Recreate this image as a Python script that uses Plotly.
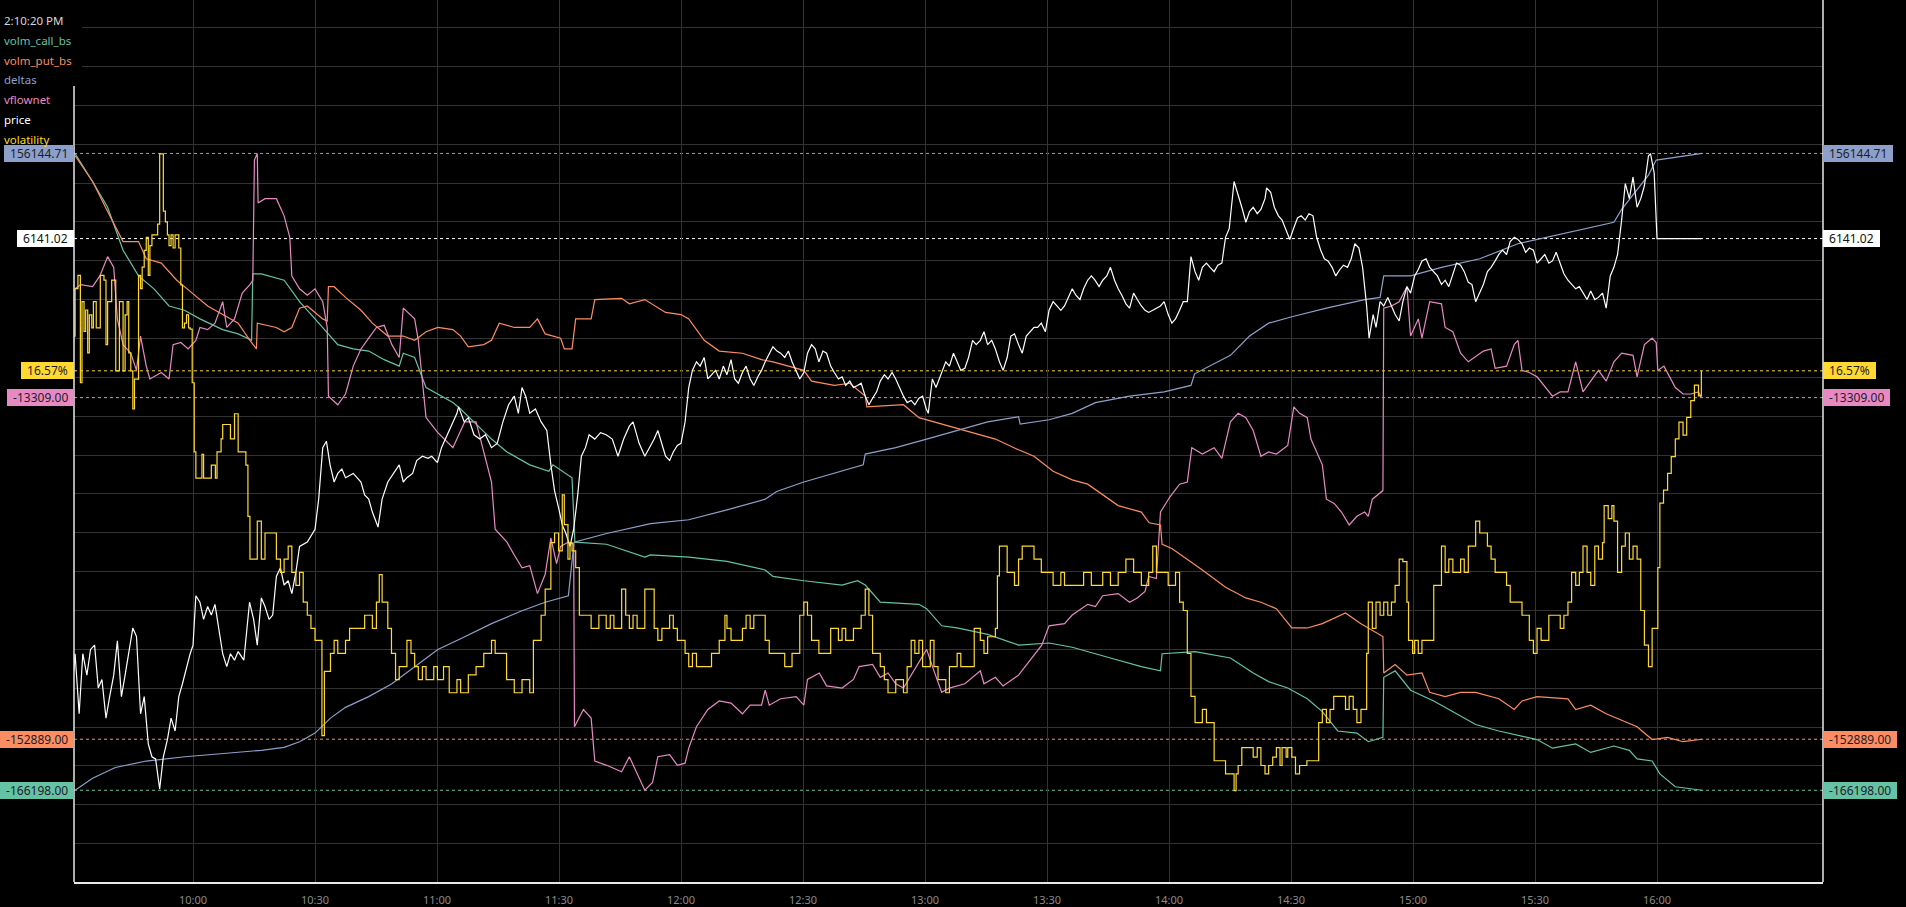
import plotly.graph_objects as go
from datetime import datetime, timedelta

BASE = datetime(2025, 6, 27, 9, 30)
CLOCK_TEXT = "2:10:20 PM"
TICK_LABELS = ["10:00", "10:30", "11:00", "11:30", "12:00", "12:30", "13:00",
               "13:30", "14:00", "14:30", "15:00", "15:30", "16:00"]

# ---------------- data: (minutes after 09:30, value) ----------------
call_points = [(1.0,-7508),(5.3,-14463),(9.0,-20883),(10.9,-26233),(12.8,-31583),(16.6,-37993),(20.4,-41213),(24.1,-45493),(27.9,-46563),(31.7,-48703),(37.3,-51378),(41.1,-52448),(44.4,-54053),(44.7,-37468),(46.8,-37468),(52.4,-39073),(56.2,-44423),(60.0,-48703),(62.8,-51913),(65.6,-55123),(69.4,-56193),(73.2,-56728),(77.0,-58868),(80.7,-60473),(81.7,-57263),(84.5,-58333),(87.3,-65823),(90.2,-67428),(93.9,-69568),(95.8,-71173),(99.6,-74918),(103.4,-78663),(107.2,-81873),(112.8,-85083),(117.5,-86688),(118.5,-85083),(123.2,-88293),(123.9,-104343),(131.7,-104878),(136.4,-106483),(141.1,-108088),(142.5,-107553),(151.9,-108088),(161.3,-109158),(170.7,-111298),(172.6,-112903),(180.2,-113973),(189.6,-115043),(193.4,-113973),(195.3,-115043),(199.0,-119323),(208.5,-119858),(210.4,-120928),(214.1,-125208),(217.9,-125743),(225.4,-127348),(233.0,-130023),(240.5,-129488),(246.2,-130558),(255.6,-133233),(263.2,-135373),(267.9,-136443),(268.3,-132163),(276.4,-131628),(282.0,-132698),(285.1,-133233),(290.7,-136978),(294.5,-139118),(299.2,-140723),(304.0,-143398),(307.7,-146608),(311.5,-151423),(316.2,-151958),(319.0,-154098),(322.6,-153028),(322.8,-138048),(325.6,-136443),(329.4,-141258),(335.1,-143933),(341.7,-147678),(345.4,-149818),(351.1,-151423),(360.5,-153563),(364.3,-155703),(370.0,-154633),(373.7,-156773),(379.4,-155168),(383.2,-156238),(385.1,-158378),(388.8,-158913),(390.7,-162123),(394.5,-165333),(401.1,-166198)]

put_points = [(1.0,-7454),(5.3,-13874),(9.0,-21364),(12.8,-28854),(16.6,-28854),(18.5,-33134),(22.2,-34204),(26.0,-38484),(29.8,-41694),(33.6,-44904),(37.3,-47044),(41.1,-49184),(44.0,-53464),(45.6,-55604),(45.8,-49184),(50.5,-50254),(52.4,-51324),(54.3,-50254),(56.2,-45439),(58.1,-44904),(61.9,-48114),(63.0,-48649),(63.3,-40089),(64.7,-40089),(67.5,-42764),(71.3,-45974),(74.1,-49184),(77.9,-52394),(81.7,-52394),(84.5,-53464),(87.3,-51324),(90.2,-50254),(93.9,-50789),(95.8,-52394),(97.7,-55069),(101.5,-54534),(103.4,-53464),(105.3,-49184),(109.0,-50254),(112.8,-50254),(114.7,-48114),(116.6,-51859),(120.4,-52929),(121.3,-55604),(123.2,-55604),(124.1,-48114),(127.9,-48114),(128.8,-43299),(135.4,-42978),(137.3,-44369),(141.1,-43299),(146.2,-46509),(150.0,-47044),(151.9,-48114),(155.7,-53464),(159.4,-56139),(165.1,-56674),(169.8,-58279),(172.6,-58814),(180.2,-60954),(182.1,-63629),(187.7,-64699),(191.5,-64164),(195.3,-67374),(195.7,-70049),(204.7,-69514),(208.5,-72724),(212.2,-73794),(217.9,-75399),(223.6,-77004),(227.3,-78074),(233.0,-80749),(236.8,-82354),(241.5,-86099),(246.2,-88239),(250.0,-89309),(253.7,-91984),(257.5,-94659),(263.2,-96264),(265.1,-98939),(267.9,-99474),(268.3,-104289),(270.7,-105359),(274.5,-108034),(278.2,-110709),(283.9,-114989),(288.9,-117664),(292.6,-118734),(296.4,-120339),(300.2,-125154),(304.0,-125154),(307.7,-124084),(313.4,-121409),(317.2,-124084),(320.9,-126224),(322.6,-127294),(322.8,-136389),(325.6,-134249),(328.5,-136924),(332.2,-136389),(334.1,-141204),(337.9,-142274),(341.7,-141204),(345.4,-141204),(351.1,-142809),(354.9,-145484),(356.8,-143344),(360.5,-142274),(368.1,-142809),(370.0,-145484),(373.7,-144414),(377.5,-146554),(381.3,-148159),(385.1,-149764),(388.8,-152974),(392.6,-152439),(396.4,-153509),(401.1,-152889)]

deltas_points = [(1.0,-2576),(5.3,420),(10.9,3095),(18.5,4700),(28.0,5770),(37.3,6626),(46.8,7375),(52.4,8124),(56.2,9515),(60.0,11655),(63.8,15400),(67.5,18075),(73.2,20750),(78.9,23960),(84.5,28240),(90.2,32520),(95.8,35195),(103.4,38940),(110.9,42150),(116.6,44290),(122.3,45895),(123.7,59270),(131.7,61410),(141.1,63550),(142.5,63871),(151.9,64834),(161.3,67295),(170.7,69970),(173.5,71896),(180.2,74250),(189.6,76925),(194.8,78530),(195.3,81205),(202.8,82810),(210.4,84950),(217.9,87090),(225.4,89230),(233.0,90514),(233.4,88695),(240.5,89765),(246.2,91370),(251.9,94045),(260.3,95650),(268.8,96720),(275.4,98325),(276.3,101214),(282.0,104210),(285.1,105815),(289.8,110630),(294.5,113840),(300.2,115445),(308.7,117585),(318.1,119725),(321.9,120260),(322.8,125610),(329.4,125610),(337.0,127750),(346.4,129890),(355.8,133635),(360.5,134705),(370.0,136845),(379.4,138985),(381.3,142195),(385.1,147010),(387.9,150755),(389.8,154500),(396.4,155570),(401.1,156144.71)]

vflownet_points = [(1.0,4772),(2.4,5485),(5.3,5128),(7.1,6912),(9.0,10123),(10.5,8339),(11.4,-222),(12.8,-4502),(14.7,-5929),(16.1,-8783),(17.1,-3075),(18.5,-8069),(19.4,-10209),(22.2,-9139),(24.1,-10209),(25.1,-4502),(27.0,-4146),(28.8,-5216),(30.7,-3789),(31.7,-1649),(33.6,-2006),(35.4,-935),(37.3,2632),(38.3,-1649),(40.2,-222),(42.1,4059),(44.0,5485),(44.7,6199),(45.1,26174),(45.8,27244),(46.0,19040),(47.7,19753),(50.5,19753),(52.4,16900),(53.8,13333),(54.3,6912),(56.2,4772),(58.1,3702),(60.0,4772),(61.9,2632),(63.0,-1649),(63.3,-13063),(65.6,-14490),(67.5,-12707),(69.4,-8069),(71.3,-5216),(73.2,-3432),(75.1,-1649),(77.0,-1292),(78.9,-4502),(80.7,-6642),(81.7,1562),(84.5,-222),(85.4,-3789),(87.3,-16630),(90.2,-19128),(93.9,-21624),(96.8,-17343),(99.6,-17343),(101.5,-22337),(103.4,-27331),(104.3,-35178),(107.2,-37319),(109.0,-39459),(110.9,-41599),(112.8,-41242),(114.7,-45879),(116.6,-42669),(118.0,-36605),(119.4,-40886),(120.4,-38032),(122.3,-37319),(123.6,-37676),(123.8,-67995),(126.0,-65141),(127.9,-66568),(128.8,-73702),(131.7,-74415),(135.4,-75485),(137.3,-72988),(139.2,-75842),(141.1,-78550),(143.0,-77266),(144.3,-72989),(147.2,-72632),(149.1,-74415),(151.0,-74059),(151.9,-71562),(153.8,-67995),(156.6,-65141),(159.4,-63714),(162.3,-64070),(165.1,-65854),(167.0,-64427),(169.8,-64427),(170.7,-61930),(171.7,-64427),(174.5,-63357),(178.3,-63001),(180.2,-64427),(181.1,-60147),(184.0,-59076),(185.8,-61217),(189.6,-61573),(192.4,-60147),(193.8,-58007),(197.1,-57650),(199.0,-59790),(200.9,-59076),(202.8,-60860),(204.7,-61573),(208.5,-57294),(210.4,-55153),(212.2,-58720),(214.1,-62288),(216.0,-61573),(219.8,-60860),(223.6,-58720),(224.5,-60860),(227.3,-59790),(229.2,-61217),(233.0,-59434),(235.8,-56937),(238.7,-54440),(240.5,-51230),(244.3,-50873),(246.2,-49446),(250.0,-47663),(251.9,-48019),(253.7,-46236),(257.5,-45879),(260.3,-47306),(262.2,-46593),(264.1,-45523),(265.0,-43026),(266.9,-43382),(267.9,-32325),(270.2,-29828),(272.6,-27688),(274.5,-27331),(275.6,-21624),(278.2,-22694),(281.1,-21624),(283.0,-23407),(285.1,-17343),(287.0,-15916),(288.9,-16630),(290.7,-18770),(292.6,-23051),(294.5,-22337),(296.4,-22694),(299.2,-21267),(300.7,-14846),(302.1,-15916),(304.0,-16630),(304.9,-20197),(307.7,-24477),(308.7,-30185),(310.6,-30898),(312.4,-32325),(314.3,-34465),(316.2,-33038),(318.1,-32325),(319.0,-33038),(320.0,-30185),(321.9,-29115),(322.6,-28758),(322.8,1562),(324.7,1918),(326.6,2632),(328.5,5128),(329.4,-3075),(331.3,-222),(332.2,-3432),(334.1,2632),(337.0,2275),(337.9,-1649),(339.8,-2362),(341.7,-5929),(343.6,-7356),(347.3,-5572),(349.2,-5216),(350.2,-8426),(353.0,-8069),(354.9,-4502),(355.8,-3789),(356.8,-8783),(358.6,-9139),(360.5,-9853),(364.3,-13063),(366.2,-12350),(368.1,-12350),(370.0,-7356),(371.8,-12350),(375.6,-8783),(377.5,-10566),(379.4,-7356),(381.3,-5929),(384.1,-6286),(385.1,-9853),(386.9,-4502),(388.8,-3432),(389.8,-4146),(390.2,-8783),(391.7,-8069),(394.5,-11636),(396.4,-12707),(398.3,-12707),(400.2,-12350),(400.9,-13309)]

price_points = [(0.7,6100.74),(1.0,6102.34),(2.0,6096.74),(2.9,6102.34),(3.9,6100.34),(4.8,6102.74),(5.8,6103.14),(6.7,6099.14),(7.6,6099.94),(8.6,6096.34),(9.5,6098.34),(10.5,6100.34),(11.4,6103.54),(12.4,6098.34),(13.3,6100.34),(14.2,6102.34),(15.2,6104.74),(16.1,6103.94),(17.1,6096.74),(18.0,6098.34),(19.0,6093.94),(19.9,6092.74),(20.8,6092.54),(21.8,6089.74),(22.7,6092.74),(23.7,6094.34),(24.6,6096.34),(25.6,6095.14),(26.5,6098.34),(27.4,6099.54),(28.4,6101.14),(29.3,6102.34),(30.0,6103.14),(30.7,6107.74),(31.7,6107.14),(32.6,6105.54),(33.6,6106.74),(34.5,6105.94),(35.4,6106.94),(36.4,6104.34),(37.3,6102.34),(38.3,6101.14),(39.2,6102.34),(40.2,6101.74),(41.1,6102.54),(42.5,6101.74),(43.2,6104.34),(43.9,6107.14),(44.9,6105.54),(45.8,6103.14),(46.8,6107.54),(47.7,6106.74),(48.7,6105.54),(49.6,6105.94),(50.5,6109.54),(51.5,6110.34),(52.4,6108.74),(53.4,6109.14),(54.3,6107.94),(55.3,6109.94),(56.2,6112.34),(58.1,6112.74),(60.0,6113.94),(60.9,6116.74),(61.9,6121.54),(62.8,6122.14),(63.7,6119.94),(64.7,6118.34),(65.6,6119.14),(66.6,6119.54),(67.5,6118.74),(69.4,6119.14),(71.3,6118.34),(72.2,6117.14),(73.2,6116.74),(74.1,6115.54),(75.5,6114.14),(76.5,6116.74),(77.9,6118.34),(79.3,6119.14),(80.7,6119.94),(81.7,6118.34),(82.6,6118.74),(84.0,6119.14),(85.0,6120.34),(86.4,6120.74),(87.8,6120.54),(88.7,6120.74),(90.1,6120.14),(91.1,6121.54),(92.0,6122.34),(93.0,6123.14),(93.9,6123.94),(94.9,6124.74),(95.3,6125.34),(96.7,6123.94),(97.7,6124.34),(99.1,6122.74),(100.5,6122.34),(101.9,6122.74),(103.4,6121.54),(104.8,6121.94),(106.2,6123.94),(107.6,6125.54),(109.0,6126.34),(110.0,6124.74),(110.9,6127.14),(111.8,6126.34),(112.8,6124.74),(114.2,6125.14),(115.6,6123.94),(117.0,6123.14),(118.0,6119.94),(118.9,6117.54),(119.9,6115.94),(120.8,6114.34),(121.7,6113.54),(122.7,6112.34),(123.6,6113.94),(124.6,6117.14),(125.5,6120.74),(126.5,6121.54),(127.4,6122.74),(128.8,6122.34),(130.2,6122.94),(131.6,6122.74),(133.1,6122.34),(134.5,6120.74),(135.9,6122.34),(137.3,6123.54),(138.2,6123.94),(139.7,6121.94),(141.1,6120.74),
(143.4,6122.34),(144.3,6123.14),(145.3,6121.94),(146.2,6120.74),(147.2,6120.34),(148.1,6121.14),(149.1,6121.74),(150.0,6121.94),(151.0,6123.94),(151.9,6127.14),(152.8,6128.74),(153.8,6129.54),(154.7,6129.14),(155.7,6129.94),(156.6,6127.94),(157.5,6128.34),(158.5,6128.74),(159.4,6127.94),(160.4,6129.14),(161.3,6128.34),(162.3,6129.74),(163.2,6127.94),(164.1,6127.54),(165.1,6128.54),(166.0,6129.14),(167.0,6127.94),(167.9,6127.34),(168.9,6128.14),(169.8,6128.74),(170.7,6129.54),(171.7,6130.34),(172.6,6130.94),(173.6,6130.54),(174.5,6130.34),(175.5,6129.94),(176.4,6130.54),(177.3,6129.54),(178.3,6128.74),(179.2,6127.94),(180.2,6128.54),(181.1,6130.34),(182.1,6131.14),(183.0,6130.74),(183.9,6129.54),(184.9,6130.54),(185.8,6130.34),(186.8,6129.14),(187.7,6128.54),(188.7,6127.94),(189.6,6128.14),(190.5,6127.34),(191.5,6127.74),(192.4,6127.14),(193.4,6127.34),(194.3,6127.54),(195.3,6126.34),(196.2,6125.54),(197.1,6126.14),(198.1,6126.74),(199.0,6127.74),(200.0,6128.34),(200.9,6127.94),(201.9,6128.54),(202.8,6127.94),(203.7,6127.14),(204.7,6126.34),(205.6,6125.74),(206.6,6125.94),(207.5,6125.54),(208.5,6126.14),(209.4,6126.34),(210.3,6125.14),(210.8,6124.74),(211.8,6127.94),(212.7,6127.14),(214.1,6128.54),(215.1,6129.54),(216.0,6129.14),(217.0,6130.34),(217.9,6129.54),(218.8,6128.74),(219.8,6128.94),(220.7,6129.94),(221.7,6131.54),(222.6,6131.14),(223.6,6131.54),(224.5,6132.34),(225.4,6131.14),(226.4,6131.54),(227.3,6130.74),(228.3,6129.54),(229.2,6128.74),(230.2,6129.94),(231.1,6131.94),(232.0,6132.14),(233.0,6131.14),(233.9,6130.34),(234.9,6131.94),(235.8,6132.34),(236.8,6132.74),(237.7,6132.74),(238.6,6133.14),(239.6,6132.34),(240.5,6134.34),(241.5,6135.14),(242.4,6134.74),(243.4,6134.34),(244.3,6134.74),(245.2,6135.54),(246.2,6136.34),(247.1,6135.74),(248.1,6135.34),(249.0,6136.34),(250.0,6137.14),(250.9,6137.54),(251.8,6137.14),(252.8,6136.54),(253.7,6137.14),(254.7,6137.54),(255.6,6138.34),(256.6,6137.14),(257.5,6136.34),(258.4,6135.74),(259.4,6134.94),(260.3,6134.54),(261.3,6135.94),(262.2,6135.34),(263.2,6134.74),(264.1,6134.34),(265.0,6134.14),(266.0,6134.34),(266.9,6134.54),(267.9,6134.74),(268.8,6135.14),(269.8,6133.94),(270.7,6133.14),(271.6,6133.54),(272.6,6134.34),(273.5,6135.14),(274.5,6135.14),(275.4,6139.34),(276.4,6137.94),(277.3,6137.14),(278.2,6138.34),(279.2,6138.74),(280.1,6138.34),(281.1,6137.94),(282.0,6138.54),(283.0,6138.74),(283.9,6141.14),(284.8,6141.94),
(286.0,6146.34),(287.0,6145.14),(287.9,6143.94),(288.9,6142.54),(289.8,6143.54),(290.7,6143.94),(291.7,6143.34),(292.6,6143.74),(293.6,6144.74),(294.0,6145.74),(295.0,6145.34),(295.9,6143.94),(296.9,6143.14),(297.8,6142.74),(298.8,6141.74),(299.7,6140.94),(300.6,6141.94),(301.6,6142.94),(302.5,6143.14),(303.5,6142.74),(304.4,6143.34),(305.4,6143.14),(306.3,6141.14),(307.3,6139.94),(308.2,6139.14),(309.1,6138.94),(310.1,6138.34),(311.0,6137.54),(312.0,6138.14),(312.9,6138.54),(313.9,6138.34),(314.8,6139.14),(315.7,6140.54),(316.7,6140.14),(317.6,6138.34),(318.6,6134.74),(319.2,6131.74),(320.2,6133.94),(320.9,6132.74),(321.9,6135.14),(322.8,6134.74),(323.8,6135.54),(324.7,6134.74),(325.6,6133.94),(326.6,6133.34),(327.5,6135.14),(328.5,6136.54),(329.4,6135.94),(330.4,6137.54),(331.3,6138.14),(332.2,6138.94),(333.2,6139.14),(334.1,6138.34),(335.1,6137.94),(336.0,6137.54),(337.0,6136.74),(337.9,6137.14),(338.8,6136.54),(339.8,6137.74),(340.7,6138.74),(341.7,6138.54),(342.6,6137.94),(343.6,6136.94),(344.5,6136.74),(345.4,6135.14),(346.4,6135.94),(347.3,6136.74),(348.3,6137.94),(349.2,6138.34),(350.2,6138.94),(351.1,6139.54),(352.0,6139.94),(353.0,6139.54),(353.9,6140.74),(354.9,6141.14),(355.8,6140.94),(356.8,6140.54),(357.7,6139.74),(358.6,6140.14),(359.6,6139.94),(360.5,6138.74),(361.5,6139.14),(362.4,6139.54),(363.4,6138.74),(364.3,6138.94),(365.2,6139.74),(366.2,6138.74),(367.1,6137.74),(368.1,6137.14),(369.0,6136.74),(370.0,6136.34),(370.9,6136.54),(371.8,6135.94),(372.8,6135.34),(373.7,6136.14),(374.7,6135.34),(375.6,6135.54),(376.6,6135.94),(377.5,6134.54),(378.5,6137.54),(379.4,6138.34),(380.3,6139.54),(381.3,6142.74),(382.2,6146.14),(383.2,6144.74),(384.1,6146.74),(385.1,6143.94),(386.0,6144.74),(386.9,6145.94),(387.9,6148.74),(388.4,6148.94),(388.8,6147.94),(389.3,6147.14),(390.0,6141.02),(400.9,6141.02)]

volatility_points = [(0.7,16.86),(1.0,17.26),(1.7,17.37),(2.3,16.47),(2.7,17.15),(3.2,16.90),(3.6,17.08),(4.1,16.72),(4.5,17.04),(5.1,16.93),(5.5,17.15),(6.2,16.93),(7.2,17.37),(8.1,17.33),(8.6,16.79),(9.0,17.15),(10.0,17.33),(11.0,16.57),(11.9,17.15),(12.8,16.57),(13.3,17.04),(13.8,17.15),(14.2,16.72),(14.7,16.57),(15.2,16.25),(15.6,16.50),(16.6,17.37),(17.1,17.26),(17.5,17.44),(18.0,17.58),(18.5,17.69),(19.0,17.37),(19.4,17.62),(19.9,17.71),(21.3,17.80),(21.8,18.39),(22.3,18.39),(22.7,17.91),(23.2,17.82),(23.7,17.71),(24.1,17.62),(24.6,17.71),(25.1,17.60),(25.6,17.71),(26.0,17.71),(26.5,17.60),(27.0,17.29),(27.4,16.93),(27.9,16.97),(28.4,17.04),(28.9,16.93),(29.3,16.92),(29.8,16.47),(30.3,15.89),(30.7,15.67),(31.7,15.67),(32.2,15.87),(32.6,15.67),(33.6,15.67),(34.5,15.78),(35.5,15.67),(35.9,15.89),(36.9,16.00),(37.3,16.12),(38.3,16.12),(39.2,16.00),(40.2,16.21),(41.1,15.89),(42.1,15.89),(43.0,15.78),(43.5,15.35),(44.0,14.99),(44.9,14.99),(45.8,15.31),(46.8,14.99),(47.7,15.21),(48.7,15.21),(50.5,14.99),(51.5,14.88),(52.4,14.99),(53.4,15.10),(54.3,14.88),(55.3,14.77),(56.2,14.88),(57.1,14.63),(58.1,14.52),(59.0,14.41),(60.0,14.31),(60.9,14.31),(61.7,13.51),(62.3,14.05),(63.8,14.20),(64.7,14.31),(65.6,14.20),(67.5,14.31),(68.5,14.41),(71.3,14.41),(72.2,14.52),(74.1,14.41),(75.1,14.63),(75.8,14.86),(76.5,14.63),(77.9,14.41),(78.8,14.20),(79.8,13.98),(80.7,14.09),(82.6,14.31),(83.6,14.20),(84.5,14.09),(85.4,13.98),(86.4,14.09),(87.3,13.98),(89.2,14.09),(90.1,13.98),(91.6,14.09),(93.0,13.87),(94.9,13.98),(95.8,13.87),(97.7,14.02),(99.6,14.09),(101.5,14.20),(103.4,14.31),(104.3,14.20),(106.2,14.20),(107.1,13.98),(109.0,13.87),(110.9,13.98),(112.8,13.87),(113.7,14.31),(114.7,14.31),(115.6,14.52),(116.6,14.74),(118.0,15.13),(118.9,15.21),(119.9,15.06),(120.8,15.53),(121.3,15.28),(122.2,14.99),(122.7,15.13),(123.2,15.06),(124.1,14.92),(125.0,14.52),(126.0,14.52),(127.9,14.41),(129.8,14.52),(131.6,14.41),(132.6,14.52),(133.5,14.41),(135.4,14.74),(136.4,14.52),(137.3,14.41),(138.2,14.52),(139.2,14.41),(141.1,14.74),
(143.4,14.41),(144.3,14.31),(145.3,14.41),(147.2,14.52),(148.1,14.41),(149.1,14.31),(151.0,14.20),(151.9,14.09),(152.8,14.20),(153.8,14.09),(156.6,14.09),(157.5,14.20),(159.4,14.31),(160.8,14.52),(161.3,14.41),(162.3,14.31),(165.1,14.41),(166.0,14.52),(167.0,14.41),(167.9,14.52),(169.8,14.52),(170.7,14.31),(171.7,14.20),(173.6,14.20),(175.5,14.09),(177.3,14.20),(179.2,14.52),(180.2,14.63),(181.1,14.52),(182.1,14.31),(183.9,14.20),(185.8,14.20),(186.8,14.41),(188.7,14.31),(189.6,14.41),(190.5,14.31),(192.4,14.41),(194.3,14.52),(195.3,14.74),(196.2,14.52),(197.1,14.20),(199.0,14.09),(200.0,13.98),(200.9,13.87),(202.8,13.98),(204.7,13.87),(205.6,14.09),(206.6,14.31),(207.5,14.20),(208.5,14.31),(209.4,14.09),(211.3,14.31),(212.2,14.09),(213.2,13.98),(215.1,13.87),(216.0,14.09),(217.9,14.20),(218.8,14.09),(220.7,14.09),(222.1,14.41),(223.6,14.31),(224.5,14.20),(225.4,14.34),(227.3,14.41),(227.8,14.85),(228.3,15.10),(229.7,15.10),(230.2,14.88),(231.1,14.88),(232.0,14.77),(233.0,14.99),(233.9,15.10),(235.8,15.10),(236.8,14.99),(237.7,14.99),(238.6,14.88),(240.5,14.88),(241.5,14.77),(242.4,14.77),(243.4,14.88),(244.3,14.77),(248.1,14.77),(249.0,14.88),(250.9,14.77),(252.8,14.77),(253.7,14.88),(255.6,14.77),(257.5,14.88),(259.4,14.99),(261.3,14.88),(263.2,14.77),(265.0,14.88),(266.0,15.10),(266.9,14.88),(268.8,14.88),(269.8,14.77),(271.6,14.88),(272.6,14.63),(273.5,14.56),(274.5,14.20),(275.4,13.84),(276.4,13.62),(278.2,13.73),(279.2,13.62),(281.1,13.30),(283.9,13.19),
(286.0,13.05),(286.5,13.19),(287.0,13.26),(287.9,13.41),(289.8,13.41),(290.7,13.33),(291.7,13.41),(292.6,13.26),(293.6,13.19),(294.5,13.26),(295.5,13.33),(296.4,13.41),(297.3,13.26),(297.8,13.41),(298.8,13.33),(299.2,13.41),(300.2,13.33),(301.1,13.19),(302.1,13.26),(303.9,13.30),(305.8,13.30),(306.8,13.62),(307.7,13.73),(308.7,13.62),(309.6,13.73),(310.5,13.84),(312.4,13.84),(313.4,13.73),(314.3,13.84),(315.3,13.73),(316.2,13.62),(317.2,13.73),(318.1,13.73),(318.6,14.20),(319.0,14.63),(320.0,14.41),(320.9,14.63),(321.9,14.52),(322.8,14.63),(323.8,14.52),(324.7,14.63),(325.6,14.77),(326.6,14.99),(327.5,14.97),(328.5,14.63),(328.9,14.31),(329.9,14.20),(330.4,14.31),(331.3,14.20),(332.2,14.31),(334.1,14.31),(335.1,14.77),(337.0,15.10),(337.9,14.88),(338.8,14.99),(339.8,14.88),(341.7,14.99),(342.6,14.88),(343.6,15.10),(344.5,15.10),(345.4,15.31),(346.4,15.21),(347.3,15.21),(348.3,15.10),(349.2,14.99),(350.2,14.88),(352.0,14.88),(353.0,14.77),(353.9,14.63),(354.9,14.63),(356.8,14.52),(358.6,14.31),(359.6,14.20),(360.5,14.41),(361.5,14.31),(363.4,14.52),(366.2,14.41),(367.1,14.52),(368.1,14.63),(369.0,14.88),(370.0,14.77),(370.9,14.88),(371.8,15.10),(372.8,14.88),(373.7,14.77),(374.7,15.10),(375.6,14.99),(376.6,15.13),(377.0,15.44),(378.0,15.33),(378.9,15.44),(379.4,15.31),(380.3,14.88),(381.3,15.10),(382.2,15.21),(383.2,14.99),(384.1,15.10),(385.1,14.99),(386.0,14.56),(386.9,14.27),(387.9,14.09),(388.8,14.41),(389.8,14.41),(390.2,14.92),(390.7,15.46),(391.6,15.57),(392.6,15.71),(393.5,15.85),(394.5,16.00),(395.4,16.14),(396.4,16.03),(397.3,16.18),(398.3,16.32),(399.2,16.45),(400.2,16.36),(400.9,16.57)]

SERIES_NAMES = ["volm_call_bs", "volm_put_bs", "deltas", "vflownet", "price", "volatility"]

# ---------------- styling ----------------
COLORS = {"volm_call_bs": "#66c2a5", "volm_put_bs": "#fc8d62", "deltas": "#8da0cb",
          "vflownet": "#e78ac3", "price": "#ffffff", "volatility": "#ffd92f"}
AXIS_RANGE = {"volm_call_bs": [-189066, 30781], "volm_put_bs": [-188477, 31370],
              "deltas": [-25453, 194394], "vflownet": [-93806, 52772],
              "price": [6081.07, 6163.25], "volatility": [12.283, 19.680]}
POINTS = {"volm_call_bs": call_points, "volm_put_bs": put_points, "deltas": deltas_points,
          "vflownet": vflownet_points, "price": price_points, "volatility": volatility_points}

FONT = "Noto Sans, Open Sans, sans-serif"
GRID = "#333333"
AXLINE = "#e8e8e8"
NBSP = "\u00a0"


def to_time(m):
    return BASE + timedelta(minutes=m)


fig = go.Figure()
# empty trace on the base axis (used for the horizontal grid)
fig.add_trace(go.Scatter(x=[], y=[], xaxis="x", yaxis="y", showlegend=False, hoverinfo="skip"))

shapes = []
annotations = []
layout_axes = {}
for i, name in enumerate(SERIES_NAMES):
    ax = "y%d" % (i + 2)
    pts = POINTS[name]
    xs = [to_time(p[0]) for p in pts]
    ys = [p[1] for p in pts]
    fig.add_trace(go.Scatter(
        x=xs, y=ys, name=name, mode="lines", yaxis=ax,
        line=dict(color=COLORS[name], width=1.2,
                  shape="hv" if name == "volatility" else "linear"),
        showlegend=False, hoverinfo="skip"))
    layout_axes["yaxis%d" % (i + 2)] = dict(overlaying="y", range=AXIS_RANGE[name],
                                            visible=False, fixedrange=True)
    last = ys[-1]
    shapes.append(dict(type="line", xref="paper", x0=0, x1=1, yref=ax, y0=last, y1=last,
                       line=dict(color=COLORS[name], width=1, dash="dot"), layer="below"))
    label = ("%.2f%%" % last) if name == "volatility" else ("%.2f" % last)
    label = NBSP + label + NBSP
    txtcol = "#111111" if name == "price" else "#1e1e28"
    for side in ("left", "right"):
        annotations.append(dict(
            xref="paper", x=0 if side == "left" else 1,
            xanchor="right" if side == "left" else "left",
            yref=ax, y=last, yanchor="middle", text=label, showarrow=False,
            bgcolor=COLORS[name], borderpad=2, borderwidth=1, bordercolor=COLORS[name],
            height=11,
            font=dict(family=FONT, size=12, color=txtcol)))

# legend block (top-left)
legend_items = [(CLOCK_TEXT, "#d6d6d6")] + [(n, COLORS[n]) for n in SERIES_NAMES]
for k, (txt, col) in enumerate(legend_items):
    annotations.append(dict(xref="paper", yref="paper", x=-0.0412, xanchor="left",
                            y=1 - (20.5 + 20.1 * k) / 891, yanchor="middle", text=txt,
                            showarrow=False, font=dict(family=FONT, size=11.5, color=col)))

# black box behind the legend, left axis line, right axis line
shapes.append(dict(type="rect", xref="paper", yref="paper", x0=-0.05, x1=0.0046,
                   y0=0.9024, y1=1.0, fillcolor="#000000", line=dict(width=0), layer="above"))
shapes.append(dict(type="line", xref="paper", yref="paper", x0=0, x1=0, y0=0, y1=0.9024,
                   line=dict(color=AXLINE, width=1.5), layer="above"))
shapes.append(dict(type="line", xref="paper", yref="paper", x0=1, x1=1, y0=0, y1=1,
                   line=dict(color=AXLINE, width=1.5), layer="above"))

tick_times = [to_time(30 + 30 * k) for k in range(len(TICK_LABELS))]

fig.update_layout(
    width=1906, height=907, autosize=False,
    margin=dict(l=74, r=83, t=0, b=16, pad=0),
    paper_bgcolor="#000000", plot_bgcolor="#000000",
    showlegend=False,
    font=dict(family=FONT, size=11, color="#cccccc"),
    xaxis=dict(type="date",
               range=[BASE + timedelta(seconds=44), BASE + timedelta(minutes=430, seconds=49)],
               tickvals=tick_times, ticktext=TICK_LABELS,
               showgrid=True, gridcolor=GRID, gridwidth=1,
               zeroline=False, showline=True, linecolor=AXLINE, linewidth=2,
               ticks="", tickfont=dict(family=FONT, size=11, color="#8a8a8a"),
               ticklabelstandoff=7, fixedrange=True),
    yaxis=dict(range=[0, 891], tick0=38.75, dtick=39.25, showgrid=True, gridcolor=GRID,
               gridwidth=1, showticklabels=False, zeroline=False, showline=False,
               ticks="", fixedrange=True),
    shapes=shapes, annotations=annotations,
    **layout_axes,
)

fig.write_html("out.html", config={"displayModeBar": False},
               post_script="document.body.style.margin='0';document.body.style.overflow='hidden';")
